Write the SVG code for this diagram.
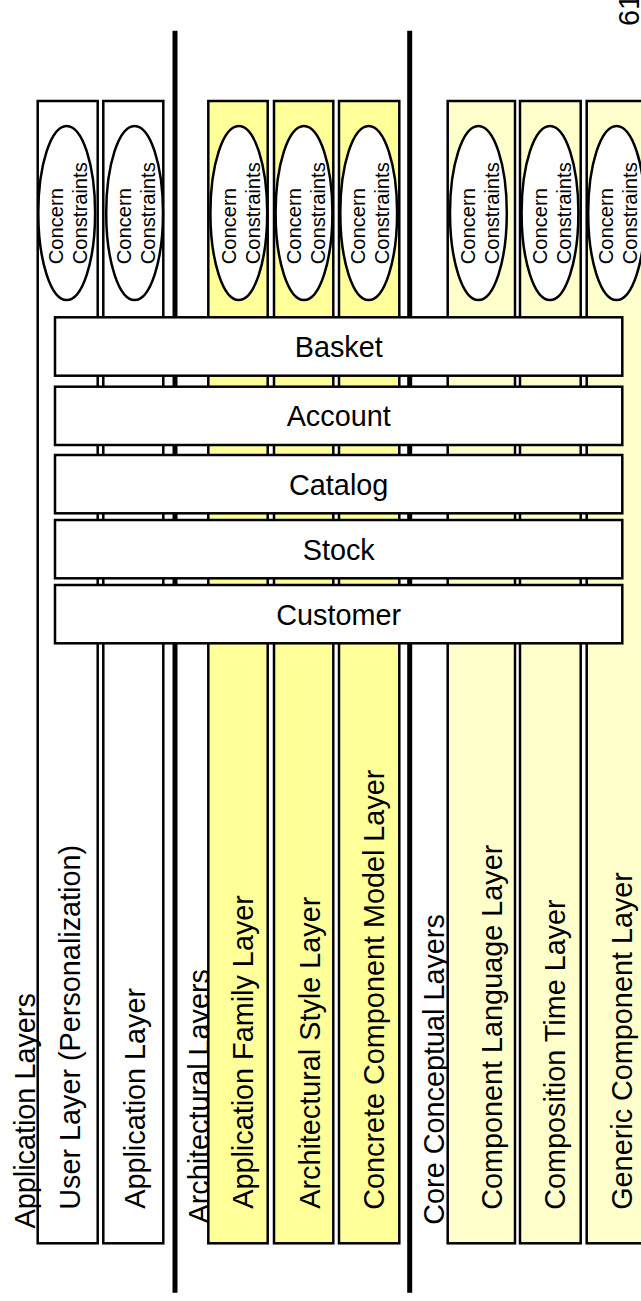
<svg xmlns="http://www.w3.org/2000/svg" width="641" height="1301" viewBox="0 0 641 1301">
<style>
text{font-family:"Liberation Sans",Arial,sans-serif;fill:#000}
.col{stroke:#000;stroke-width:2.5}
.w{fill:#fff}
.y1{fill:#ffff99}
.y2{fill:#ffffcc}
.ell{fill:#fff;stroke:#000;stroke-width:2.5}
.cc{font-size:20.2px}
.lab{font-size:28.8px}
.box{fill:#fff;stroke:#000;stroke-width:2.5}
.sep{stroke:#000;stroke-width:5}
</style>
<rect width="641" height="1301" fill="#fff"/>
<text class="lab" transform="translate(639,26) rotate(-90)">61</text>
<g id="connectors">
<line class="sep" x1="175" y1="30.7" x2="175" y2="1292.7"/>
<line class="sep" x1="409.7" y1="30.7" x2="409.7" y2="1292.7"/>
</g>
<text id="label-architectural" class="lab" transform="translate(209,1223.5) rotate(-90)">Architectural Layers</text>
<text id="label-core" class="lab" transform="translate(443.5,1224.7) rotate(-90)">Core Conceptual Layers</text>
<g id="col-user">
<rect class="col w" x="37.7" y="101" width="60" height="1142.3"/>
<ellipse class="ell" cx="66.7" cy="213" rx="28.4" ry="87"/>
<text class="cc" transform="translate(63.4,264.3) rotate(-90)">Concern</text>
<text class="cc" transform="translate(87.4,264.3) rotate(-90)">Constraints</text>
<text class="lab" transform="translate(80,1209.8) rotate(-90)">User Layer (Personalization)</text>
</g>
<g id="col-application">
<rect class="col w" x="103.3" y="101" width="60" height="1142.3"/>
<ellipse class="ell" cx="134.6" cy="213" rx="28.4" ry="87"/>
<text class="cc" transform="translate(131.3,264.3) rotate(-90)">Concern</text>
<text class="cc" transform="translate(155.3,264.3) rotate(-90)">Constraints</text>
<text class="lab" transform="translate(145.3,1208.8) rotate(-90)">Application Layer</text>
</g>
<g id="col-appfamily">
<rect class="col y1" x="208.3" y="101" width="59.4" height="1142.3"/>
<ellipse class="ell" cx="238.8" cy="213" rx="28.4" ry="87"/>
<text class="cc" transform="translate(235.5,264.3) rotate(-90)">Concern</text>
<text class="cc" transform="translate(259.5,264.3) rotate(-90)">Constraints</text>
<text class="lab" transform="translate(252.5,1208.8) rotate(-90)">Application Family Layer</text>
</g>
<g id="col-archstyle">
<rect class="col y1" x="274" y="101" width="59.3" height="1142.3"/>
<ellipse class="ell" cx="304" cy="213" rx="28.4" ry="87"/>
<text class="cc" transform="translate(300.7,264.3) rotate(-90)">Concern</text>
<text class="cc" transform="translate(324.7,264.3) rotate(-90)">Constraints</text>
<text class="lab" transform="translate(320.3,1208.8) rotate(-90)">Architectural Style Layer</text>
</g>
<g id="col-concrete">
<rect class="col y1" x="339" y="101" width="60.3" height="1142.3"/>
<ellipse class="ell" cx="368.7" cy="213" rx="28.4" ry="87"/>
<text class="cc" transform="translate(365.4,264.3) rotate(-90)">Concern</text>
<text class="cc" transform="translate(389.4,264.3) rotate(-90)">Constraints</text>
<text class="lab" transform="translate(383.5,1209.8) rotate(-90)">Concrete Component Model Layer</text>
</g>
<g id="col-complang">
<rect class="col y2" x="447.7" y="101" width="67.3" height="1142.3"/>
<ellipse class="ell" cx="478.4" cy="213" rx="28.4" ry="87"/>
<text class="cc" transform="translate(475.1,264.3) rotate(-90)">Concern</text>
<text class="cc" transform="translate(499.1,264.3) rotate(-90)">Constraints</text>
<text class="lab" transform="translate(501.7,1209.8) rotate(-90)">Component Language Layer</text>
</g>
<g id="col-comptime">
<rect class="col y2" x="520" y="101" width="60.7" height="1142.3"/>
<ellipse class="ell" cx="550" cy="213" rx="28.4" ry="87"/>
<text class="cc" transform="translate(546.7,264.3) rotate(-90)">Concern</text>
<text class="cc" transform="translate(570.7,264.3) rotate(-90)">Constraints</text>
<text class="lab" transform="translate(565.2,1209.8) rotate(-90)">Composition Time Layer</text>
</g>
<g id="col-generic">
<rect class="col y2" x="586.7" y="101" width="62" height="1142.3"/>
<ellipse class="ell" cx="616.6" cy="213" rx="28.4" ry="87"/>
<text class="cc" transform="translate(613.3,264.3) rotate(-90)">Concern</text>
<text class="cc" transform="translate(637.3,264.3) rotate(-90)">Constraints</text>
<text class="lab" transform="translate(631.8,1209.8) rotate(-90)">Generic Component Layer</text>
</g>
<text id="label-application" class="lab" transform="translate(35.2,1228.5) rotate(-90)">Application Layers</text>
<g id="basket">
<rect class="box" x="55" y="317.3" width="567.3" height="58.4"/>
<text class="lab" x="338.7" y="356.9" text-anchor="middle">Basket</text>
</g>
<g id="account">
<rect class="box" x="55" y="386.7" width="567.3" height="58.3"/>
<text class="lab" x="338.7" y="426.2" text-anchor="middle">Account</text>
</g>
<g id="catalog">
<rect class="box" x="55" y="455" width="567.3" height="58.3"/>
<text class="lab" x="338.7" y="494.5" text-anchor="middle">Catalog</text>
</g>
<g id="stock">
<rect class="box" x="55" y="520" width="567.3" height="58.3"/>
<text class="lab" x="338.7" y="559.5" text-anchor="middle">Stock</text>
</g>
<g id="customer">
<rect class="box" x="55" y="585" width="567.3" height="58.3"/>
<text class="lab" x="338.7" y="624.5" text-anchor="middle">Customer</text>
</g>
</svg>
